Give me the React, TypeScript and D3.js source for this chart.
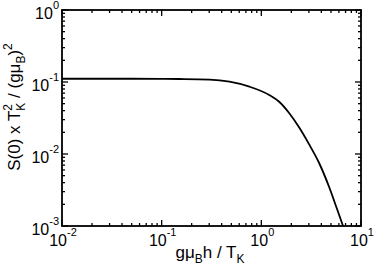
import React from "react";
import * as d3 from "d3";

const xs = [0.01, 0.05, 0.1, 0.151, 0.302, 0.479, 0.759, 1.2, 1.51, 1.9, 2.4, 3.0, 3.8, 4.79, 5.75, 6.6];
const ys = [0.111, 0.111, 0.1105, 0.11, 0.108, 0.101, 0.0861, 0.066, 0.0532, 0.0371, 0.0233, 0.0138, 0.0075, 0.00348, 0.00172, 0.001];
const xMajor = [-2, -1, 0, 1];
const yMajor = [-3, -2, -1, 0];

const W = 374, H = 272;
const L = 62, R = 361, T = 10, B = 226;
const FONT = "'Liberation Sans', Arial, Helvetica, sans-serif";

export default function App() {
  const x = d3.scaleLog().domain([0.01, 10]).range([L, R]);
  const y = d3.scaleLog().domain([0.001, 1]).range([B, T]);

  const minors = (exps: number[]) => {
    const out: number[] = [];
    for (let i = 0; i < exps.length - 1; i++) {
      for (let k = 2; k <= 9; k++) out.push(k * Math.pow(10, exps[i]));
    }
    return out;
  };
  const xMin = minors(xMajor);
  const yMin = minors(yMajor);

  const pts: [number, number][] = xs.map((v, i) => [x(v), y(ys[i])]);
  const line = d3.line().curve(d3.curveMonotoneX)(pts) || "";

  const tickEls: React.ReactNode[] = [];
  const sw = 1.3;
  xMajor.forEach((e, i) => {
    const px = x(Math.pow(10, e));
    tickEls.push(<line key={"xb" + i} x1={px} x2={px} y1={B} y2={B - 6} stroke="#000" strokeWidth={sw} />);
    tickEls.push(<line key={"xt" + i} x1={px} x2={px} y1={T} y2={T + 6} stroke="#000" strokeWidth={sw} />);
  });
  xMin.forEach((v, i) => {
    const px = x(v);
    tickEls.push(<line key={"xmb" + i} x1={px} x2={px} y1={B} y2={B - 3} stroke="#000" strokeWidth={sw} />);
    tickEls.push(<line key={"xmt" + i} x1={px} x2={px} y1={T} y2={T + 3} stroke="#000" strokeWidth={sw} />);
  });
  yMajor.forEach((e, i) => {
    const py = y(Math.pow(10, e));
    tickEls.push(<line key={"yl" + i} x1={L} x2={L + 6} y1={py} y2={py} stroke="#000" strokeWidth={sw} />);
    tickEls.push(<line key={"yr" + i} x1={R} x2={R - 6} y1={py} y2={py} stroke="#000" strokeWidth={sw} />);
  });
  yMin.forEach((v, i) => {
    const py = y(v);
    tickEls.push(<line key={"yml" + i} x1={L} x2={L + 3} y1={py} y2={py} stroke="#000" strokeWidth={sw} />);
    tickEls.push(<line key={"ymr" + i} x1={R} x2={R - 3} y1={py} y2={py} stroke="#000" strokeWidth={sw} />);
  });

  return (
    <svg width={W} height={H} style={{ position: "absolute", left: 0, top: 0, background: "#fff" }} fontFamily={FONT}>
      <rect x={0} y={0} width={W} height={H} fill="#fff" />
      <path d={line} fill="none" stroke="#000" strokeWidth={1.8} />
      {tickEls}
      <rect x={L} y={T} width={R - L} height={B - T} fill="none" stroke="#000" strokeWidth={1.8} />
      {yMajor.map((e, i) => (
        <text key={"ylab" + i} x={59} y={y(Math.pow(10, e)) + 9} textAnchor="end" fontSize={16} fill="#000">
          10<tspan fontSize={11} dy={-10}>{e}</tspan>
        </text>
      ))}
      {xMajor.map((e, i) => (
        <text key={"xlab" + i} x={x(Math.pow(10, e)) + 1} y={246} textAnchor="middle" fontSize={16} fill="#000">
          10<tspan fontSize={11} dy={-10}>{e}</tspan>
        </text>
      ))}
      <text x={210} y={258} textAnchor="middle" fontSize={17} fill="#000">
        gμ<tspan fontSize={12} dy={5}>B</tspan><tspan dy={-5}>h / T</tspan><tspan fontSize={12} dy={5}>K</tspan>
      </text>
      <text transform={`translate(20,${107}) rotate(-90)`} textAnchor="middle" fontSize={17} fill="#000">
        S(0) x T<tspan fontSize={12} dy={-8}>2</tspan><tspan fontSize={12} dx={-6.7} dy={13}>K</tspan><tspan dy={-5}> / (gμ</tspan><tspan fontSize={12} dy={5}>B</tspan><tspan dy={-5}>)</tspan><tspan fontSize={12} dy={-8}>2</tspan>
      </text>
    </svg>
  );
}
